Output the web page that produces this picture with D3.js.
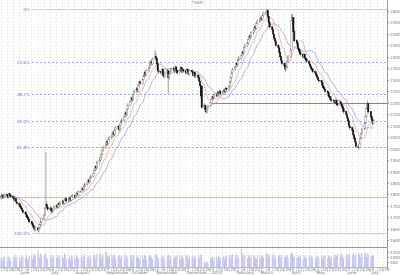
<!DOCTYPE html>
<html><head><meta charset="utf-8">
<script src="https://cdn.jsdelivr.net/npm/d3@7"></script>
<style>html,body{margin:0;padding:0;background:#fff;}svg{display:block;font-family:"DejaVu Sans",sans-serif;}</style>
</head><body><svg id="c" width="400" height="275"></svg>
<script>
const opens = [1782,1791,1797,1786,1793,1801,1794,1789,1803,1795,1791,1784,1774,1781,1767,1761,1753,1746,1739,1731,1723,1714,1706,1699,1691,1681,1673,1664,1656,1647,1654,1644,1653,1667,1681,1696,1711,1742,1756,1744,1736,1741,1729,1726,1734,1746,1751,1744,1761,1754,1766,1771,1759,1776,1781,1771,1779,1786,1774,1791,1796,1787,1796,1806,1799,1811,1816,1826,1819,1836,1844,1851,1863,1854,1871,1879,1891,1906,1921,1914,1939,1951,1963,1976,1991,2004,2016,2031,2021,2041,2047,2056,2069,2059,2081,2089,2096,2081,2101,2116,2124,2141,2156,2147,2171,2189,2206,2221,2211,2236,2249,2261,2251,2276,2291,2284,2301,2316,2331,2321,2339,2351,2366,2379,2369,2391,2401,2394,2371,2339,2336,2329,2346,2319,2314,2331,2339,2311,2326,2336,2346,2349,2337,2356,2341,2331,2341,2353,2334,2346,2339,2329,2346,2337,2324,2341,2334,2319,2331,2314,2321,2309,2294,2276,2272,2181,2189,2169,2159,2176,2186,2201,2216,2226,2219,2236,2229,2246,2237,2251,2239,2246,2256,2247,2263,2257,2271,2291,2311,2331,2344,2356,2371,2364,2386,2394,2406,2421,2414,2441,2449,2461,2476,2491,2484,2504,2516,2531,2524,2546,2554,2561,2571,2564,2581,2589,2596,2601,2576,2549,2531,2519,2499,2481,2469,2451,2439,2419,2401,2384,2371,2359,2344,2356,2381,2401,2431,2561,2571,2511,2471,2459,2439,2431,2419,2411,2399,2411,2394,2391,2381,2369,2359,2351,2344,2336,2329,2319,2311,2299,2296,2289,2274,2266,2259,2251,2244,2229,2226,2214,2211,2204,2199,2211,2194,2191,2204,2194,2186,2174,2161,2149,2134,2121,2099,2091,2079,2059,2046,2029,2011,2004,2021,2046,2066,2086,2111,2141,2176,2196,2161,2139,2124,2111];
const highs = [1796,1805,1801,1797,1806,1804,1798,1807,1806,1799,1793,1788,1786,1783,1772,1764,1758,1750,1744,1735,1728,1718,1712,1703,1694,1686,1678,1668,1660,1661,1658,1657,1672,1686,1700,1716,1745,1985,1768,1750,1748,1745,1737,1741,1752,1758,1756,1766,1765,1772,1778,1774,1781,1788,1785,1784,1792,1789,1796,1802,1799,1800,1811,1810,1818,1822,1832,1830,1841,1852,1857,1869,1867,1877,1888,1897,1912,1928,1926,1948,1958,1970,1983,1998,2014,2024,2038,2036,2048,2056,2063,2076,2074,2088,2098,2103,2100,2108,2122,2133,2148,2163,2160,2178,2198,2213,2228,2226,2243,2258,2268,2266,2283,2298,2296,2308,2323,2338,2336,2348,2358,2373,2386,2384,2398,2428,2418,2398,2375,2350,2342,2352,2350,2326,2338,2348,2344,2332,2342,2352,2358,2354,2362,2360,2346,2347,2360,2356,2352,2350,2342,2352,2350,2340,2347,2345,2338,2336,2334,2326,2324,2313,2298,2280,2275,2198,2193,2175,2182,2192,2206,2222,2232,2230,2242,2240,2252,2250,2258,2255,2252,2262,2260,2270,2267,2278,2298,2318,2338,2353,2363,2378,2376,2393,2403,2413,2428,2426,2448,2458,2468,2483,2498,2496,2513,2523,2538,2536,2553,2563,2568,2578,2576,2588,2598,2603,2609,2604,2580,2555,2536,2524,2505,2488,2475,2456,2444,2425,2406,2390,2376,2364,2362,2388,2408,2438,2585,2590,2575,2516,2476,2464,2446,2436,2428,2416,2418,2415,2400,2396,2386,2376,2366,2356,2350,2340,2335,2326,2315,2306,2300,2294,2280,2272,2264,2255,2249,2236,2230,2222,2215,2209,2218,2214,2200,2212,2208,2199,2190,2180,2166,2155,2140,2125,2105,2096,2085,2065,2052,2035,2016,2028,2052,2072,2092,2118,2148,2182,2210,2200,2165,2145,2130,2128];
const lows = [1778,1786,1780,1781,1788,1790,1783,1786,1792,1785,1780,1771,1770,1764,1755,1748,1740,1733,1726,1716,1710,1700,1693,1684,1675,1668,1660,1650,1640,1636,1638,1634,1649,1662,1676,1690,1706,1736,1740,1728,1728,1722,1716,1720,1730,1740,1738,1741,1748,1750,1760,1754,1755,1770,1765,1766,1774,1769,1770,1786,1782,1783,1791,1794,1796,1806,1812,1813,1815,1831,1839,1846,1848,1850,1866,1874,1886,1900,1905,1910,1932,1944,1957,1970,1985,1998,2010,2012,2016,2034,2040,2050,2052,2054,2075,2084,2072,2076,2095,2110,2118,2135,2138,2142,2165,2183,2200,2204,2206,2230,2243,2244,2246,2270,2277,2279,2295,2310,2314,2316,2333,2345,2360,2362,2364,2386,2388,2364,2332,2325,2322,2325,2312,2305,2310,2326,2240,2300,2320,2330,2340,2330,2333,2336,2322,2326,2336,2328,2330,2331,2322,2325,2330,2318,2320,2328,2314,2315,2308,2308,2302,2288,2268,2222,2172,2172,2162,2152,2155,2170,2180,2196,2210,2212,2214,2222,2224,2230,2232,2233,2234,2240,2240,2242,2250,2252,2266,2286,2305,2325,2338,2350,2356,2358,2380,2388,2400,2406,2409,2435,2443,2455,2470,2476,2478,2498,2510,2516,2518,2540,2548,2555,2556,2558,2575,2583,2588,2570,2545,2524,2512,2492,2474,2462,2442,2432,2412,2392,2378,2362,2352,2335,2340,2350,2376,2396,2426,2540,2502,2462,2452,2432,2422,2412,2402,2392,2394,2388,2382,2372,2362,2352,2342,2337,2327,2322,2312,2302,2292,2287,2282,2267,2257,2252,2242,2237,2222,2217,2207,2202,2198,2192,2195,2188,2182,2186,2188,2177,2166,2152,2142,2127,2112,2092,2082,2072,2052,2037,2022,2002,1995,2000,2016,2040,2060,2080,2105,2136,2170,2152,2132,2118,2102,2106];
const closes = [1790,1798,1785,1792,1800,1795,1788,1802,1796,1790,1785,1775,1780,1768,1760,1752,1745,1738,1730,1722,1715,1705,1698,1690,1680,1672,1665,1655,1648,1655,1645,1652,1668,1680,1695,1710,1740,1755,1745,1735,1740,1730,1725,1735,1745,1750,1745,1760,1755,1765,1770,1760,1775,1780,1772,1778,1785,1775,1790,1795,1788,1795,1805,1800,1812,1815,1825,1820,1835,1845,1850,1862,1855,1870,1880,1890,1905,1920,1915,1940,1950,1962,1975,1990,2005,2015,2030,2022,2040,2048,2055,2068,2060,2080,2090,2095,2082,2100,2115,2125,2140,2155,2148,2170,2190,2205,2220,2212,2235,2250,2260,2252,2275,2290,2285,2300,2315,2330,2322,2340,2350,2365,2378,2370,2390,2400,2395,2370,2340,2335,2330,2345,2320,2315,2330,2340,2310,2325,2335,2345,2350,2338,2355,2342,2330,2340,2352,2335,2345,2338,2330,2345,2336,2325,2340,2335,2320,2330,2315,2320,2310,2295,2275,2230,2180,2190,2170,2160,2175,2185,2200,2215,2225,2220,2235,2230,2245,2238,2250,2240,2245,2255,2248,2262,2258,2270,2290,2310,2330,2345,2355,2370,2365,2385,2395,2405,2420,2415,2440,2450,2460,2475,2490,2485,2505,2515,2530,2525,2545,2555,2560,2570,2565,2580,2590,2595,2600,2575,2550,2530,2520,2500,2480,2470,2450,2440,2420,2400,2385,2370,2360,2345,2355,2380,2400,2430,2560,2570,2510,2470,2460,2440,2430,2420,2410,2400,2410,2395,2390,2380,2370,2360,2350,2345,2335,2330,2320,2310,2300,2295,2290,2275,2265,2260,2250,2245,2230,2225,2215,2210,2205,2200,2210,2195,2190,2205,2195,2185,2175,2160,2150,2135,2120,2100,2090,2080,2060,2045,2030,2010,2005,2020,2045,2065,2085,2110,2140,2175,2195,2160,2140,2125,2110,2120];
const volumes = [900,1050,620,980,1100,760,1150,920,1010,670,980,1120,850,1260,940,1010,680,1180,950,1070,920,1230,740,880,1150,1090,770,1210,1320,1050,1680,1260,900,1350,1190,1080,1290,1410,970,790,1120,950,1240,760,1150,860,1180,1020,730,1210,1070,900,1330,1260,780,940,1090,660,1170,1040,1120,780,1230,1010,880,1060,1190,740,1080,1350,990,1120,670,1210,1030,1150,1260,840,1190,1320,1210,1380,900,1270,1150,1420,1560,1100,980,1250,1230,890,1180,1310,850,980,1150,1240,870,1130,1180,840,1260,1110,790,1070,1210,750,1130,1240,1010,1170,880,720,1190,1130,820,1250,1090,760,1180,1060,1210,940,830,1260,1150,1300,1010,890,990,1120,840,1180,750,1090,1280,810,1140,1060,830,1150,980,1090,1200,1110,760,1180,1040,930,1170,1060,1220,790,1110,1040,1150,780,1090,920,1080,770,1140,1290,1230,650,420,380,600,490,820,960,1050,700,1010,1080,790,1150,1030,920,1010,1130,760,1090,1180,1150,1240,880,1190,1290,1210,890,1260,1150,830,1780,1320,990,1260,1140,920,1230,1080,870,1250,1060,1180,930,790,1210,1140,850,1220,1100,970,1380,1250,1320,990,1260,1230,910,1280,1150,840,1090,1210,940,1260,1170,980,1050,1130,1240,910,1250,1420,1330,1010,1140,880,1190,1050,940,1220,810,1130,980,1160,870,1120,840,1190,1080,950,760,1110,1030,1180,890,1140,820,1170,1060,1210,890,1200,1050,950,1110,1190,880,1240,1120,1310,1260,950,1330,1210,900,1180,1290,940,1240,1320,1210,1350,1060,1180,1290,1380,1270,990,1320,1440,1290,1410,1030,1360,1260,990,1080,1250,1140];

const priceTicks = d3.range(1600, 2601, 50);
const volTicks = [500, 1000, 1500];
const fibHigh = 2609, fibLow = 1634;
const fibLevels = [0, 0.236, 0.382, 0.5, 0.618, 1];
const fibLabels = ["0%", "23.6%", "38.2%", "50.0%", "61.8%", "100.0%"];
const resistancePrice = 2200, resistanceStart = new Date(2010, 0, 6);
const supportPrice = 1790;
const monthNames = ["January","February","March","April","May","June","July","August","September","October","November","December"];
const title = "^NSEI";
const maShort = 10, maLong = 20;

// trading dates (weekdays)
const dates = [];
{ let d = new Date(2009, 4, 11, 12); while (dates.length < closes.length) { const wd = d.getDay(); if (wd !== 0 && wd !== 6) dates.push(new Date(d)); d = d3.timeDay.offset(d, 1); } }
const data = dates.map((d, i) => ({d, o: opens[i], h: highs[i], l: lows[i], c: closes[i], v: volumes[i]}));
function sma(n) { return data.map((p, i) => { const s = closes.slice(Math.max(0, i - n + 1), i + 1); return {d: p.d, v: d3.mean(s)}; }); }

const W = 400, H = 275, plotR = 387, priceB = 247, volB = 267;
const x = d3.scaleTime().domain([new Date(2009, 4, 10, 10), new Date(2010, 6, 23, 20)]).range([0, plotR]);
const y = d3.scaleLinear().domain([1600, 2600]).range([240.3, 11]);
const yv = d3.scaleLinear().domain([0, 1500]).range([volB, 252]);

const svg = d3.select("#c");
svg.append("rect").attr("width", W).attr("height", H).attr("fill", "#fff");
const defs = svg.append("defs");
defs.append("clipPath").attr("id", "pc").append("rect").attr("x", 0).attr("y", 0).attr("width", plotR).attr("height", priceB);
defs.append("clipPath").attr("id", "vc").append("rect").attr("x", 0).attr("y", priceB).attr("width", plotR).attr("height", volB - priceB);

// weekly gridlines
const mondays = d3.timeMonday.range(x.domain()[0], x.domain()[1]);
svg.append("g").selectAll("line").data(mondays).join("line")
  .attr("x1", d => Math.round(x(d)) + 0.5).attr("x2", d => Math.round(x(d)) + 0.5)
  .attr("y1", 0).attr("y2", volB)
  .attr("stroke", "#dadada").attr("stroke-width", 1).attr("stroke-dasharray", "1,2");

// fib lines
const fg = svg.append("g");
fibLevels.forEach((f, i) => {
  const p = fibHigh - f * (fibHigh - fibLow);
  const yy = Math.round(y(p)) + 0.5;
  const solid = (f === 0 || f === 1);
  fg.append("line").attr("x1", 32).attr("x2", plotR).attr("y1", yy).attr("y2", yy)
    .attr("stroke", solid ? "#c8c8f4" : "#a8a8f0").attr("stroke-width", 1)
    .attr("stroke-dasharray", solid ? null : "2,2");
  fg.append("text").attr("x", 30).attr("y", yy + 1.5).attr("text-anchor", "end")
    .attr("font-size", 4.2).attr("fill", "#7070e0").text(fibLabels[i]);
});

// support / resistance lines
svg.append("line").attr("x1", 0).attr("x2", plotR).attr("y1", Math.round(y(supportPrice)) + 0.5).attr("y2", Math.round(y(supportPrice)) + 0.5)
  .attr("stroke", "#a8d8a8").attr("stroke-width", 1);
svg.append("line").attr("x1", x(resistanceStart)).attr("x2", plotR).attr("y1", Math.round(y(resistancePrice)) + 0.5).attr("y2", Math.round(y(resistancePrice)) + 0.5)
  .attr("stroke", "#e06060").attr("stroke-width", 1);

// volume
svg.append("g").attr("clip-path", "url(#vc)").selectAll("rect").data(data).join("rect")
  .attr("x", d => x(d.d) - 0.4).attr("width", 0.8)
  .attr("y", d => yv(d.v)).attr("height", d => volB - yv(d.v))
  .attr("fill", "#b8b8f2");

// moving averages
const line = d3.line().x(d => x(d.d)).y(d => y(d.v));
const mg = svg.append("g").attr("clip-path", "url(#pc)");
mg.append("path").datum(sma(maLong)).attr("d", line).attr("fill", "none").attr("stroke", "#9090f0").attr("stroke-width", 0.7);
mg.append("path").datum(sma(maShort)).attr("d", line).attr("fill", "none").attr("stroke", "#f09090").attr("stroke-width", 0.7);

// candles
const cg = svg.append("g").attr("clip-path", "url(#pc)");
cg.selectAll("line").data(data).join("line")
  .attr("x1", d => x(d.d)).attr("x2", d => x(d.d))
  .attr("y1", d => y(d.h)).attr("y2", d => y(d.l))
  .attr("stroke", "#666").attr("stroke-width", 0.6);
cg.selectAll("rect").data(data).join("rect")
  .attr("x", d => x(d.d) - 0.7).attr("width", 1.4)
  .attr("y", d => y(Math.max(d.o, d.c))).attr("height", d => Math.max(0.6, Math.abs(y(d.o) - y(d.c))))
  .attr("fill", d => d.c >= d.o ? "#fff" : "#111")
  .attr("stroke", d => d.c >= d.o ? "#777" : "#111").attr("stroke-width", 0.4);

// frame lines
svg.append("line").attr("x1", 0).attr("x2", plotR).attr("y1", priceB + 0.5).attr("y2", priceB + 0.5).attr("stroke", "#999");
svg.append("line").attr("x1", 0).attr("x2", plotR).attr("y1", volB + 0.5).attr("y2", volB + 0.5).attr("stroke", "#bbb");
svg.append("line").attr("x1", plotR + 0.5).attr("x2", plotR + 0.5).attr("y1", 0).attr("y2", volB + 2).attr("stroke", "#999");

// right axis
const ra = svg.append("g");
priceTicks.forEach(t => {
  const yy = Math.round(y(t)) + 0.5;
  ra.append("line").attr("x1", plotR).attr("x2", plotR + 2).attr("y1", yy).attr("y2", yy).attr("stroke", "#999");
  ra.append("text").attr("x", plotR + 3).attr("y", yy + 1.5).attr("font-size", 4.2).attr("fill", "#777").text(t);
});
volTicks.forEach(t => {
  const yy = Math.round(yv(t)) + 0.5;
  ra.append("line").attr("x1", plotR).attr("x2", plotR + 2).attr("y1", yy).attr("y2", yy).attr("stroke", "#999");
  ra.append("text").attr("x", plotR + 3).attr("y", yy + 1.5).attr("font-size", 4.2).attr("fill", "#777").text(t);
});

// bottom axis
const ba = svg.append("g");
mondays.forEach(m => {
  const xx = Math.round(x(m)) + 0.5;
  ba.append("line").attr("x1", xx).attr("x2", xx).attr("y1", volB).attr("y2", volB + 5).attr("stroke", "#bbb").attr("stroke-width", 0.6);
  ba.append("text").attr("x", xx + 1).attr("y", 270.5).attr("font-size", 4).attr("fill", "#777").text(m.getDate());
  if (m.getDate() <= 7) {
    const lbl = m.getMonth() === 0 ? String(m.getFullYear()) : monthNames[m.getMonth()];
    ba.append("text").attr("x", xx + 1).attr("y", 274.3).attr("font-size", 4).attr("fill", "#777").text(lbl);
  }
});

svg.append("text").attr("x", 197).attr("y", 4).attr("text-anchor", "middle").attr("font-size", 4).attr("fill", "#888").text(title);
</script></body></html>
